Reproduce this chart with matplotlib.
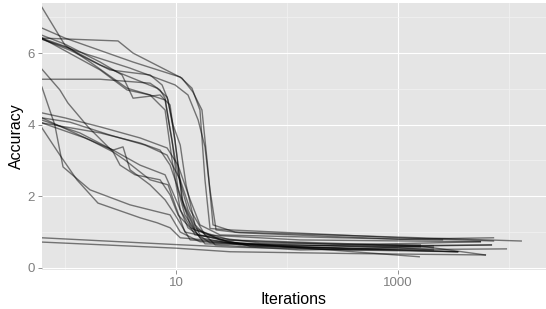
import matplotlib.pyplot as plt
from matplotlib.ticker import NullFormatter

# one list per run: iteration counts and the accuracy
run_iters = [
    [0.62, 1, 1.68, 3.62, 5.83, 7.96, 9.2, 10.4, 12.0, 16.4, 37.7, 1040, 3400],
    [0.62, 1, 4.10, 10.9, 13.9, 16.4, 18.2, 20.2, 30.6, 1040, 7200],
    [0.62, 3.0, 4.10, 11.3, 14.2, 17.1, 19.0, 21.5, 34, 1580, 12800],
    [0.62, 1.04, 2.07, 6.74, 8.30, 9.4, 10.9, 12.3, 14.8, 22.5, 131, 2070],
    [0.62, 1.11, 2.54, 5.83, 7.48, 8.47, 9.8, 11.3, 13.4, 18.2, 370, 6890],
    [0.62, 2.07, 5.83, 7.17, 7.96, 8.83, 10.4, 12.8, 16.4, 46.4, 370, 9400],
    [0.62, 1, 2.07, 3.26, 4.10, 7.17, 8.83, 10, 11.6, 14.8, 30.6, 1580, 6080],
    [0.62, 0.90, 1.06, 1.61, 2.71, 3.47, 5.83, 8.47, 9.8, 12.0, 46.4, 3480],
    [0.62, 0.81, 0.96, 1.68, 3.85, 8.83, 10.9, 16.4, 131, 5480],
    [0.62, 1, 2.07, 4.74, 8.30, 10.4, 13.4, 16.4, 24.9, 1040, 7200],
    [0.62, 1.11, 2.54, 5.26, 8.30, 10.9, 13.4, 18.2, 131, 5480],
    [0.62, 1.36, 2.71, 4.74, 7.96, 10, 12.8, 20.2, 370, 2070],
    [0.62, 1.51, 2.71, 3.33, 3.85, 5.83, 7.96, 9.8, 13.4, 131, 6890],
    [0.62, 0.90, 1.28, 1.98, 4.74, 6.74, 8.83, 10.9, 46.4, 1545],
    [0.62, 1.36, 3.85, 9.8, 12.8, 15.8, 18.2, 20.2, 22.9, 37.7, 1040, 2500],
    [0.62, 2.07, 3.62, 5.83, 7.96, 9.2, 10.9, 14.8, 56, 1580],
    [0.62, 1.68, 2.71, 3.13, 4.27, 7.17, 8.83, 10.4, 13.4, 30.6, 1040, 2070],
    [0.62, 2.07, 4.74, 7.17, 8.83, 11.3, 14.8, 24.9, 370, 1580],
    [0.62, 10, 30.6, 370, 3400],
    [0.62, 10, 30.6, 370, 6080],
]
run_accuracy = [
    [7.28, 6.22, 5.75, 5.02, 4.83, 4.69, 3.57, 2.18, 1.48, 0.84, 0.64, 0.50, 0.45],
    [6.70, 6.42, 5.75, 5.33, 5.02, 4.41, 2.46, 1.10, 1.06, 0.84, 0.75],
    [6.42, 6.34, 6.00, 5.30, 4.91, 4.41, 3.01, 1.20, 1.00, 0.84, 0.75],
    [6.42, 6.17, 5.67, 5.02, 4.77, 3.99, 3.43, 2.32, 1.20, 0.64, 0.50, 0.56],
    [6.39, 6.08, 5.53, 5.39, 5.11, 4.69, 3.57, 1.90, 1.20, 0.67, 0.61, 0.64],
    [5.27, 5.27, 5.16, 4.97, 4.74, 3.85, 2.60, 1.62, 0.92, 0.61, 0.50, 0.53],
    [6.50, 6.25, 5.75, 5.39, 4.74, 4.83, 4.55, 3.30, 1.76, 1.06, 0.78, 0.61, 0.36],
    [5.55, 4.97, 4.61, 3.94, 3.24, 3.01, 2.46, 2.32, 1.76, 1.00, 0.61, 0.45],
    [5.05, 3.99, 2.82, 2.18, 1.76, 1.48, 1.00, 0.73, 0.61, 0.73],
    [4.33, 4.19, 3.94, 3.63, 3.35, 2.87, 1.90, 1.20, 0.92, 0.80, 0.84],
    [4.19, 4.07, 3.71, 3.43, 3.15, 2.46, 1.62, 0.92, 0.78, 0.73],
    [4.13, 3.77, 3.29, 2.87, 2.60, 1.90, 1.12, 0.70, 0.53, 0.61],
    [4.05, 3.63, 3.29, 3.38, 2.74, 2.32, 1.90, 1.48, 0.78, 0.56, 0.64],
    [3.91, 3.15, 2.46, 1.81, 1.40, 1.26, 1.12, 0.84, 0.67, 0.31],
    [6.39, 6.03, 5.58, 5.11, 4.83, 4.13, 3.38, 2.18, 1.06, 0.98, 0.80, 0.78],
    [6.42, 5.53, 4.97, 4.83, 4.41, 3.01, 1.62, 0.92, 0.70, 0.64],
    [4.19, 3.57, 3.24, 2.87, 2.60, 2.46, 2.04, 1.48, 1.12, 0.70, 0.56, 0.50],
    [4.05, 3.77, 3.49, 3.29, 2.87, 1.90, 1.12, 0.78, 0.64, 0.59],
    [0.84, 0.65, 0.58, 0.50, 0.45],
    [0.72, 0.55, 0.45, 0.40, 0.36],
]

x_major = [10, 1000]
x_labels = ['10', '1000']
x_minor = [1, 100, 10000]
y_major = [0, 2, 4, 6]
y_minor = [1, 3, 5, 7]

plt.rcParams['font.family'] = ['Liberation Sans', 'DejaVu Sans']

fig = plt.figure(figsize=(5.46, 3.09), dpi=100)
ax = fig.add_axes([42 / 546, 1 - 270 / 309, 1 - 42 / 546, 267 / 309])
ax.set_facecolor('#E5E5E5')
for s in ax.spines.values():
    s.set_visible(False)

for xs, ys in zip(run_iters, run_accuracy):
    ax.plot(xs, ys, color='black', alpha=0.5, lw=1.0)

ax.set_xscale('log')
ax.set_xlim(10 ** -0.207, 10 ** 4.33)
ax.set_ylim(-0.06, 7.40)

ax.set_xticks(x_major, labels=x_labels)
ax.set_xticks(x_minor, minor=True)
ax.xaxis.set_minor_formatter(NullFormatter())
ax.set_yticks(y_major)
ax.set_yticks(y_minor, minor=True)

ax.grid(which='major', color='white', lw=0.8)
ax.grid(which='minor', color='#F2F2F2', lw=0.5)
ax.set_axisbelow(True)
ax.tick_params(which='major', length=3, width=0.6, color='#7F7F7F',
               labelcolor='#7F7F7F', labelsize=9.5, pad=2)
ax.tick_params(which='minor', length=0)

ax.set_xlabel('Iterations', fontsize=11.5, labelpad=2)
ax.set_ylabel('Accuracy', fontsize=11.5, labelpad=3)

fig.savefig('out.png', dpi=100)
